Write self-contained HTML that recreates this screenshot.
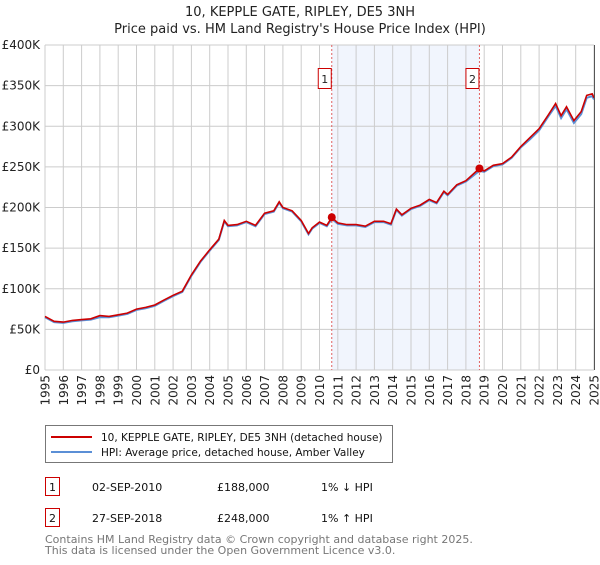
<!DOCTYPE html>
<html><head><meta charset="utf-8"><style>
body{margin:0;background:#fff;font-family:"Liberation Sans","DejaVu Sans",sans-serif;}
svg text{font-family:"DejaVu Sans","Liberation Sans",sans-serif;}
</style></head><body>
<svg width="600" height="560" xmlns="http://www.w3.org/2000/svg">
<text x="300" y="16" text-anchor="middle" font-size="13" fill="#222">10, KEPPLE GATE, RIPLEY, DE5 3NH</text>
<text x="300" y="33" text-anchor="middle" font-size="13" fill="#222">Price paid vs. HM Land Registry's House Price Index (HPI)</text>
<g id="plot"></g>
<g>
<rect x="45.5" y="425.5" width="347" height="37" fill="#fff" stroke="#777"/>
<line x1="51" y1="437" x2="92" y2="437" stroke="#cc0000" stroke-width="2"/>
<text x="101" y="441" font-size="10.5" fill="#111">10, KEPPLE GATE, RIPLEY, DE5 3NH (detached house)</text>
<line x1="51" y1="452" x2="92" y2="452" stroke="#5b8fd6" stroke-width="2"/>
<text x="101" y="456" font-size="10.5" fill="#111">HPI: Average price, detached house, Amber Valley</text>
</g>
<g font-size="11" fill="#111">
<rect x="45.5" y="477.5" width="14" height="18" fill="#fff" stroke="#cc0000"/>
<text x="52.5" y="491" text-anchor="middle">1</text>
<text x="92" y="491">02-SEP-2010</text><text x="217" y="491">£188,000</text><text x="321" y="491">1% ↓ HPI</text>
<rect x="45.5" y="508.5" width="14" height="18" fill="#fff" stroke="#cc0000"/>
<text x="52.5" y="522" text-anchor="middle">2</text>
<text x="92" y="522">27-SEP-2018</text><text x="217" y="522">£248,000</text><text x="321" y="522">1% ↑ HPI</text>
</g>
<text x="45" y="543" font-size="11" fill="#777">Contains HM Land Registry data © Crown copyright and database right 2025.</text>
<text x="45" y="554" font-size="11" fill="#777">This data is licensed under the Open Government Licence v3.0.</text>
</svg>
<script>
const yTicks=[0,50,100,150,200,250,300,350,400];
const yTickLabels=["£0","£50K","£100K","£150K","£200K","£250K","£300K","£350K","£400K"];
const years=[1995,1996,1997,1998,1999,2000,2001,2002,2003,2004,2005,2006,2007,2008,2009,2010,2011,2012,2013,2014,2015,2016,2017,2018,2019,2020,2021,2022,2023,2024,2025];
const times=[1995,1995.5,1996,1996.5,1997,1997.5,1998,1998.5,1999,1999.5,2000,2000.5,2001,2001.5,2002,2002.5,2003,2003.5,2004,2004.5,2004.8,2005,2005.5,2006,2006.5,2007,2007.5,2007.8,2008,2008.5,2009,2009.4,2009.6,2010,2010.4,2010.67,2011,2011.5,2012,2012.5,2013,2013.5,2013.9,2014.2,2014.5,2015,2015.5,2016,2016.4,2016.8,2017,2017.5,2018,2018.74,2019,2019.5,2020,2020.5,2021,2021.5,2022,2022.5,2022.9,2023.2,2023.5,2023.9,2024.3,2024.6,2024.9,2025];
const redValues=[66,60,59,61,62,63,67,66,68,70,75,77,80,86,92,97,117,134,148,161,184,178,179,183,178,193,196,207,200,196,184,168,175,182,178,188,181,179,179,177,183,183,180,198,191,199,203,210,206,220,216,228,233,248,245,252,254,262,275,286,297,314,328,313,324,307,318,338,340,335];
const blueValues=[65,59,58,60,61,62,65,65,67,69,74,76,79,85,91,96,116,133,147,160,183,177,178,182,177,192,195,206,199,195,183,167,174,181,177,186,180,178,178,176,182,182,179,197,190,198,202,209,205,219,215,227,232,245,244,251,253,261,274,284,295,312,325,310,321,304,315,335,337,333];
const sales=[{t:2010.67,v:188,label:"1"},{t:2018.74,v:248,label:"2"}];
const x0=45,x1=594,y0=370,y1=45;
const X=t=>x0+(t-1995)/(2025-1995)*(x1-x0);
const Y=v=>y0-v/400*(y0-y1);
const NS="http://www.w3.org/2000/svg";
const plot=document.getElementById('plot');
function mk(tag,attrs,parent){const e=document.createElementNS(NS,tag);for(const k in attrs)e.setAttribute(k,attrs[k]);(parent||plot).appendChild(e);return e;}
let r=mk('rect',{x:X(sales[0].t),y:y1,width:X(sales[1].t)-X(sales[0].t),height:y0-y1,fill:'#f1f5fd'});


years.forEach(yr=>{
 const l=mk('line',{x1:X(yr),x2:X(yr),y1:y1,y2:y0,stroke:'#cccccc','stroke-width':1});
 
 
 const t=mk('text',{x:0,y:0,transform:`translate(${X(yr)+4.5},${y0+5}) rotate(-90)`,'text-anchor':'end','font-size':'12',fill:'#222'});
 t.textContent=yr;
 
 
});
yTicks.forEach((v,i)=>{
 const l=mk('line',{x1:x0,x2:x1,y1:Y(v),y2:Y(v),stroke:'#cccccc','stroke-width':1});
 
 
 const t=mk('text',{x:x0-5,y:Y(v)+4,'text-anchor':'end','font-size':'12',fill:'#222'});
 t.textContent=yTickLabels[i];
 
 
});
sales.forEach(s=>{
 const l=mk('line',{x1:X(s.t),x2:X(s.t),y1:y1,y2:y0,stroke:'#e06060','stroke-width':1,'stroke-dasharray':'2,2'});
 
 
 const b=mk('rect',{x:X(s.t)-13.5,y:68.5,width:13,height:20,fill:'#fff',stroke:'#cc0000'});
 
 
 const t=mk('text',{x:X(s.t)-7,y:83,'text-anchor':'middle','font-size':'11',fill:'#222'});
 t.textContent=s.label;
 
 
});
const pts=vals=>times.map((t,i)=>X(t).toFixed(1)+','+Y(vals[i]).toFixed(1)).join(' ');
const bl=mk('polyline',{points:pts(blueValues),fill:'none',stroke:'#5b8fd6','stroke-width':2});


const rl=mk('polyline',{points:pts(redValues),fill:'none',stroke:'#cc0000','stroke-width':1.6});


sales.forEach(s=>{
 const c=mk('circle',{cx:X(s.t),cy:Y(s.v),r:4,fill:'#cc0000'});
 
 
});
const ax=mk('line',{x1:x1+0.5,x2:x1+0.5,y1:y1,y2:y0,stroke:'#555'});


</script>
</body></html>
